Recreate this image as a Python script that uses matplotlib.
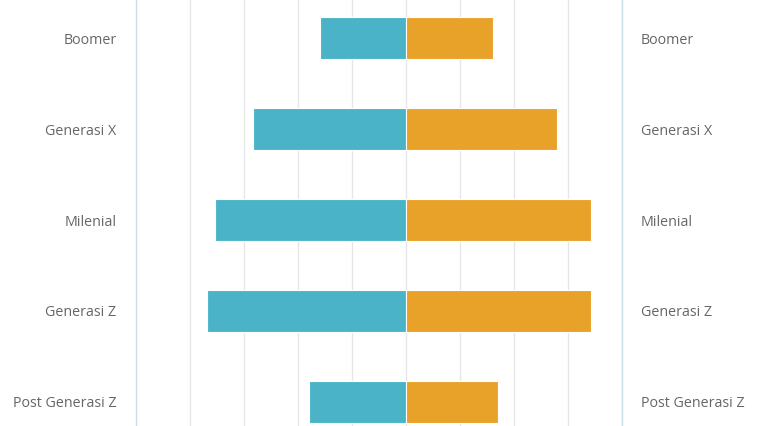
import matplotlib
matplotlib.use('Agg')
import matplotlib.pyplot as plt
import numpy as np

# Generation data (share, left side / right side)
categories = ["Boomer", "Generasi X", "Milenial", "Generasi Z", "Post Generasi Z"]
left_values = [7.95, 14.1, 17.6, 18.35, 8.95]
right_values = [8.1, 14.05, 17.15, 17.2, 8.55]
grid_ticks = [-25, -20, -15, -10, -5, 0, 5, 10, 15, 20]

BLUE = "#4bb3c7"
ORANGE = "#e8a22a"
LABEL = "#666666"

fig = plt.figure(figsize=(7.58, 4.26), dpi=100)
ax = fig.add_axes([135.5 / 758, 0, (621.5 - 135.5) / 758, 1])

y = np.arange(len(categories))
ax.barh(y, [-v for v in left_values], height=0.46, color=BLUE,
        edgecolor="white", linewidth=0.8, zorder=3)
ax.barh(y, right_values, height=0.46, color=ORANGE,
        edgecolor="white", linewidth=0.8, zorder=3)

ax.set_xlim(-25, 20)
ax.set_ylim(4.264, -0.418)

for t in grid_ticks[1:]:
    ax.axvline(t, color="#e4e6e8", linewidth=1, zorder=1)

for side in ["top", "bottom"]:
    ax.spines[side].set_visible(False)
for side in ["left", "right"]:
    ax.spines[side].set_color("#c9dde5")
    ax.spines[side].set_linewidth(1)

ax.set_xticks([])
ax.set_yticks(y)
ax.set_yticklabels(categories)
ax.tick_params(axis="y", length=0, pad=13.7, labelsize=10.3, labelcolor=LABEL,
               labelleft=True, labelright=True)
for lab in ax.get_yticklabels():
    lab.set_family("Open Sans")

plt.savefig("out.png", dpi=100)
